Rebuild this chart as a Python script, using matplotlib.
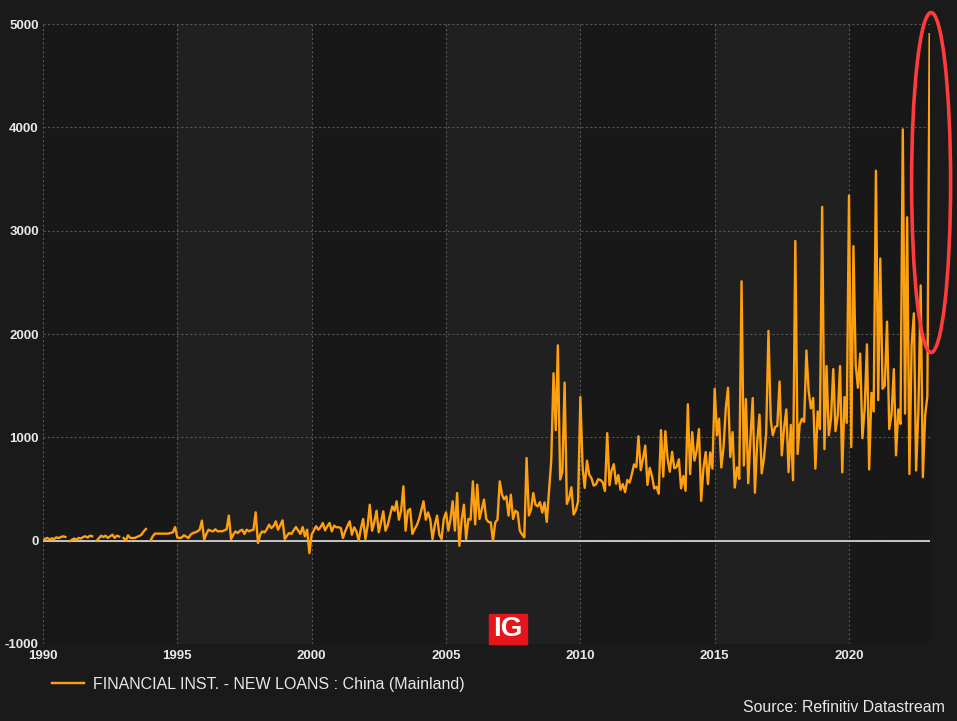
import matplotlib

matplotlib.use("Agg")
import matplotlib.dates as mdates
import matplotlib.pyplot as plt
import numpy as np
import pandas as pd
from matplotlib.patches import Ellipse, Rectangle

# =========================
# Datos (nuevos prestamos mensuales)
# =========================

nan = np.nan
INICIO = "1990-01-01"

vals_1990_1994 = [
    0, 20, 26, 10, 23, 15, 32, 25, 35, 42, 36, nan,
    -5, 10, 20, 10, 26, 20, 36, 42, 30, 48, 42, nan,
    0, 25, 48, 35, 48, 26, 42, 58, 26, 48, 40, nan,
    26, 0, 52, 26, 26, 26, 36, 45, 58, 90, 113, nan,
    0, 42, 68, 68, 68, 68, 68, 68, 68, 75, 80, 132,
]
vals_1995_1999 = [
    30, 26, 30, 52, 40, 26, 58, 74, 80, 90, 106, 194,
    10, 68, 106, 95, 90, 110, 90, 92, 90, 100, 110, 242,
    16, 60, 90, 74, 95, 106, 65, 106, 90, 100, 106, 274,
    -23, 60, 90, 80, 110, 155, 122, 140, 187, 106, 150, 197,
    16, 50, 74, 65, 100, 132, 100, 65, 132, 42, 106, -120,
]
vals_2000_2004 = [
    58, 100, 140, 106, 130, 171, 100, 140, 171, 90, 145, 130,
    130, 122, 26, 90, 140, 187, 58, 129, 90, 0, 120, 210,
    16, 150, 348, 97, 177, 290, 81, 180, 284, 97, 150, 242,
    332, 290, 381, 203, 290, 526, 97, 290, 306, 65, 113, 150,
    210, 300, 381, 203, 274, 203, 16, 150, 242, 60, 16, 210,
]
vals_2005_2009 = [
    274, 97, 200, 381, 97, 461, -50, 200, 348, 16, 210, 203,
    574, 158, 542, 210, 300, 397, 210, 180, 177, 0, 177, 203,
    574, 445, 400, 429, 242, 445, 210, 290, 274, 97, 60, 32,
    800, 244, 300, 461, 348, 332, 373, 272, 370, 181, 477, 772,
    1620, 1070, 1890, 592, 665, 1530, 356, 410, 517, 253, 295, 380,
]
vals_2010_2014 = [
    1390, 700, 511, 774, 639, 604, 533, 545, 595, 587, 564, 481,
    1040, 536, 679, 740, 551, 634, 492, 548, 470, 587, 562, 641,
    738, 711, 1010, 682, 793, 920, 540, 704, 623, 505, 522, 454,
    1070, 620, 1060, 793, 667, 860, 700, 713, 787, 506, 625, 483,
    1320, 644, 1050, 775, 871, 1080, 385, 702, 857, 548, 853, 697,
]
vals_2015_2019 = [
    1470, 1020, 1180, 708, 901, 1280, 1480, 810, 1050, 514, 709, 598,
    2510, 727, 1370, 556, 985, 1380, 464, 949, 1220, 651, 795, 1040,
    2030, 1170, 1020, 1100, 1110, 1540, 826, 1090, 1270, 663, 1120, 584,
    2900, 839, 1120, 1180, 1150, 1840, 1450, 1280, 1380, 697, 1250, 1080,
    3230, 886, 1690, 1020, 1180, 1660, 1060, 1210, 1690, 661, 1390, 1140,
]
vals_2020_2023 = [
    3340, 906, 2850, 1700, 1480, 1810, 992, 1280, 1900, 689, 1430, 1250,
    3580, 1360, 2730, 1470, 1500, 2120, 1080, 1220, 1660, 826, 1270, 1130,
    3980, 1230, 3130, 645, 1890, 2200, 679, 1250, 2470, 615, 1210, 1400,
    4900,
]

ANIOS_BANDA = [1995, 2005, 2015]
Y_TICKS = [-1000, 0, 1000, 2000, 3000, 4000, 5000]
LEYENDA = "FINANCIAL INST. - NEW LOANS : China (Mainland)"
FUENTE = "Source: Refinitiv Datastream"

# =========================
# Estilo
# =========================

FONDO = "#1a1a1a"
FONDO_EJE = "#181818"
BANDA = "#202020"
NARANJA = "#ffa010"
TEXTO = "#e8e8e8"

plt.rcParams["font.family"] = ["Liberation Sans", "DejaVu Sans"]
plt.rcParams["axes.unicode_minus"] = False

valores = (
    vals_1990_1994 + vals_1995_1999 + vals_2000_2004 + vals_2005_2009
    + vals_2010_2014 + vals_2015_2019 + vals_2020_2023
)
fechas = pd.date_range(INICIO, periods=len(valores), freq="MS")
serie = pd.Series(valores, index=fechas, dtype=float)

fig = plt.figure(figsize=(9.57, 7.21), dpi=100, facecolor=FONDO)
ax = fig.add_axes([43 / 957, 77 / 721, 887 / 957, 620 / 721])
ax.set_facecolor(FONDO_EJE)

for anio in ANIOS_BANDA:
    ax.axvspan(pd.Timestamp(f"{anio}-01-01"), pd.Timestamp(f"{anio + 5}-01-01"),
               color=BANDA, zorder=0, lw=0)

ax.axhline(0, color="#e0e0e0", lw=1.2, zorder=2)
linea, = ax.plot(serie.index, serie.values, color=NARANJA, lw=1.7, zorder=3)

ax.set_xlim(pd.Timestamp("1990-01-01"), pd.Timestamp("2023-01-06"))
ax.set_ylim(-1000, 5000)
ax.set_yticks(Y_TICKS)
ax.xaxis.set_major_locator(mdates.YearLocator(5))
ax.xaxis.set_major_formatter(mdates.DateFormatter("%Y"))
ax.grid(True, color="#555555", lw=0.8, linestyle=(0, (2, 2)), zorder=1)
ax.tick_params(length=0, colors=TEXTO, labelsize=9.5)
ax.tick_params(axis="y", pad=3)
ax.tick_params(axis="x", pad=4)
for lbl in ax.get_xticklabels() + ax.get_yticklabels():
    lbl.set_fontweight("bold")
for sp in ax.spines.values():
    sp.set_visible(False)

# elipse roja alrededor del ultimo dato
ultimo = mdates.date2num(serie.index[-1])
elipse = Ellipse((ultimo + 20, 3466), width=530, height=3290, fill=False,
                 edgecolor="#ff3b3b", lw=2.6, clip_on=False, zorder=4)
ax.add_patch(elipse)

# logo IG
fig.patches.append(Rectangle((489 / 957, 77 / 721), 38 / 957, 30 / 721,
                             transform=fig.transFigure, color="#e4161b", zorder=5))
fig.text(508 / 957, 91.5 / 721, "IG", color="white", fontsize=20, fontweight="bold",
         ha="center", va="center", zorder=6)

leg = fig.legend([linea], [LEYENDA], loc="center left",
                 bbox_to_anchor=(38 / 957, 37 / 721), frameon=False,
                 fontsize=11.5, handlelength=2.0, handletextpad=0.55)
for t in leg.get_texts():
    t.set_color(TEXTO)

fig.text(945 / 957, 14 / 721, FUENTE, color=TEXTO, fontsize=11.4,
         ha="right", va="center")

fig.savefig("out.png", dpi=100, facecolor=FONDO)
